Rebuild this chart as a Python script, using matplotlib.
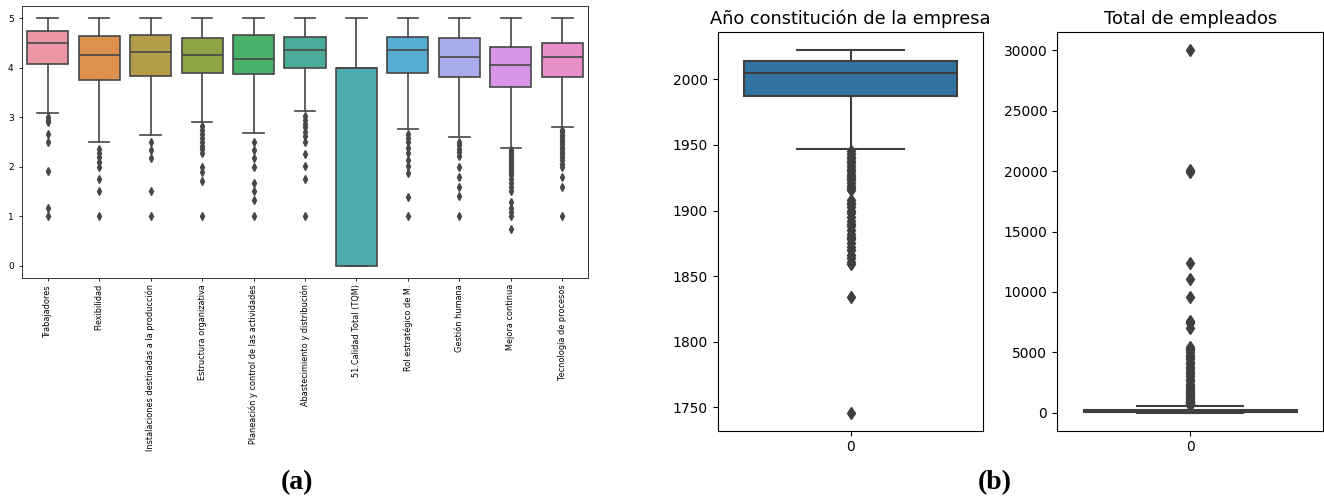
import colorsys
import matplotlib.pyplot as plt
import seaborn as sns

# (a) dimensiones de la encuesta (escala 0-5)
dimensiones = ["Trabajadores", "Flexibilidad",
               "Instalaciones destinadas a la producción",
               "Estructura organizativa",
               "Planeación y control de las actividades",
               "Abastecimiento y distribución", "51.Calidad Total (TQM)",
               "Rol estratégico de M.", "Gestión humana", "Mejora continua",
               "Tecnología de procesos"]
q1 = [4.08, 3.75, 3.83, 3.90, 3.87, 4.00, 0.00, 3.89, 3.81, 3.61, 3.81]
mediana = [4.50, 4.25, 4.31, 4.25, 4.17, 4.37, 4.00, 4.37, 4.21, 4.05, 4.21]
q3 = [4.75, 4.64, 4.67, 4.60, 4.67, 4.63, 4.00, 4.63, 4.60, 4.43, 4.51]
bigote_inf = [3.08, 2.51, 2.64, 2.91, 2.68, 3.13, 0.00, 2.76, 2.61, 2.37, 2.81]
bigote_sup = [5, 5, 5, 5, 5, 5, 5, 5, 5, 5, 5]
atipicos = [
    [3.0, 2.94, 2.9, 2.67, 2.5, 1.92, 1.17, 1.0],
    [2.35, 2.27, 2.19, 2.1, 2.0, 1.75, 1.5, 1.0],
    [2.5, 2.33, 2.17, 1.5, 1.0],
    [2.82, 2.74, 2.67, 2.59, 2.5, 2.42, 2.35, 2.28, 2.0, 1.9, 1.71, 1.0],
    [2.5, 2.33, 2.17, 2.0, 1.67, 1.5, 1.33, 1.0],
    [3.03, 2.95, 2.87, 2.8, 2.71, 2.63, 2.5, 2.26, 2.02, 1.75, 1.0],
    [],
    [2.67, 2.59, 2.49, 2.37, 2.27, 2.13, 2.02, 1.88, 1.38, 1.0],
    [2.5, 2.44, 2.35, 2.29, 2.22, 2.0, 1.8, 1.6, 1.41, 1.0],
    [2.33, 2.29, 2.25, 2.21, 2.17, 2.12, 2.08, 2.04, 2.0, 1.96, 1.92, 1.88,
     1.83, 1.75, 1.67, 1.58, 1.5, 1.29, 1.17, 1.08, 1.0, 0.75],
    [2.75, 2.7, 2.65, 2.6, 2.55, 2.5, 2.45, 2.4, 2.35, 2.3, 2.25, 2.2, 2.13,
     2.05, 2.0, 1.8, 1.6, 1.0],
]

# (b) año de constitución
anio_q = [1987, 2005, 2014]
anio_bigotes = [1947, 2022]
anio_atipicos = [1945, 1943, 1941, 1940, 1938, 1936, 1934, 1932, 1930, 1928,
                 1926, 1925, 1923, 1921, 1919, 1917, 1916, 1908, 1906, 1905,
                 1903, 1900, 1898, 1895, 1892, 1890, 1888, 1885, 1882, 1880,
                 1878, 1875, 1872, 1870, 1866, 1864, 1861, 1859, 1834, 1746]

# (b) total de empleados
emp_q = [15, 60, 230]
emp_bigotes = [0, 550]
emp_atipicos = [30000, 20100, 19900, 12400, 11100, 9550, 7600, 7400, 7000,
                5400, 5300, 5200, 5000, 4800, 4600, 4400, 4200, 4000, 3800,
                3600, 3400, 3200, 3000, 2800, 2600, 2400, 2200, 2000, 1900,
                1800, 1700, 1600, 1500, 1400, 1300, 1200, 1100, 1000, 950,
                900, 850, 800, 750, 700, 650, 600]


def gris_de(colores):
    lum = min(colorsys.rgb_to_hls(*c)[1] for c in colores) * .6
    return (lum, lum, lum)


def cajas(ax, stats, colores, lw, ms):
    gris = gris_de(colores)
    res = ax.bxp(stats, positions=range(len(stats)), widths=.8,
                 patch_artist=True, manage_ticks=False,
                 boxprops=dict(linewidth=lw, edgecolor=gris),
                 medianprops=dict(linewidth=lw, color=gris),
                 whiskerprops=dict(linewidth=lw, color=gris),
                 capprops=dict(linewidth=lw, color=gris),
                 flierprops=dict(marker="d", markersize=ms, markerfacecolor=gris,
                                 markeredgecolor=gris, linestyle="none"))
    for caja, c in zip(res["boxes"], colores):
        caja.set_facecolor(c)
    ax.set_xlim(-.5, len(stats) - .5)


fig = plt.figure(figsize=(13.24, 4.99), dpi=100)
W, H = 1324, 499

# ---- (a)
ax = fig.add_axes([22 / W, (H - 278) / H, 566 / W, 272 / H])
stats_a = [dict(q1=a, med=m, q3=b, whislo=lo, whishi=hi, fliers=f)
           for a, m, b, lo, hi, f in zip(q1, mediana, q3, bigote_inf,
                                         bigote_sup, atipicos)]
paleta = [sns.desaturate(c, .75) for c in sns.husl_palette(len(dimensiones), l=.7)]
cajas(ax, stats_a, paleta, 1.2, 4)
ax.set_ylim(-.25, 5.25)
ax.set_xticks(range(len(dimensiones)))
ax.set_xticklabels(dimensiones, rotation=90, fontsize=5.9)
ax.tick_params(axis="y", labelsize=6.5, length=2.5, width=.6)
ax.tick_params(axis="x", length=2.5, width=.6, pad=2)
for s in ax.spines.values():
    s.set_linewidth(.7)
    s.set_color("#333333")

# ---- (b)
azul = [sns.desaturate(sns.color_palette()[0], .75)]

ax1 = fig.add_axes([717.7 / W, (H - 430.7) / H, 265.6 / W, 398.4 / H])
cajas(ax1, [dict(q1=anio_q[0], med=anio_q[1], q3=anio_q[2],
                 whislo=anio_bigotes[0], whishi=anio_bigotes[1],
                 fliers=anio_atipicos)], azul, 1.5, 6)
ax1.set_xticks([0])
ax1.set_xticklabels(["0"])
ax1.tick_params(labelsize=10)
ax1.set_title("Año constitución de la empresa", fontsize=12.8)

ax2 = fig.add_axes([1057 / W, (H - 430.7) / H, 266.3 / W, 398.4 / H])
cajas(ax2, [dict(q1=emp_q[0], med=emp_q[1], q3=emp_q[2],
                 whislo=emp_bigotes[0], whishi=emp_bigotes[1],
                 fliers=emp_atipicos)], azul, 1.5, 6)
ax2.set_xticks([0])
ax2.set_xticklabels(["0"])
ax2.tick_params(labelsize=10)
ax2.set_title("Total de empleados", fontsize=12.8)

for a in (ax1, ax2):
    a.margins(y=.05)
    a.autoscale(axis="y")

fig.text(297 / W, 1 - 483 / H, "(a)", family="Liberation Serif",
         weight="bold", fontsize=20, ha="center", va="center")
fig.text(995 / W, 1 - 483 / H, "(b)", family="Liberation Serif",
         weight="bold", fontsize=20, ha="center", va="center")

fig.savefig("out.png", dpi=100)
